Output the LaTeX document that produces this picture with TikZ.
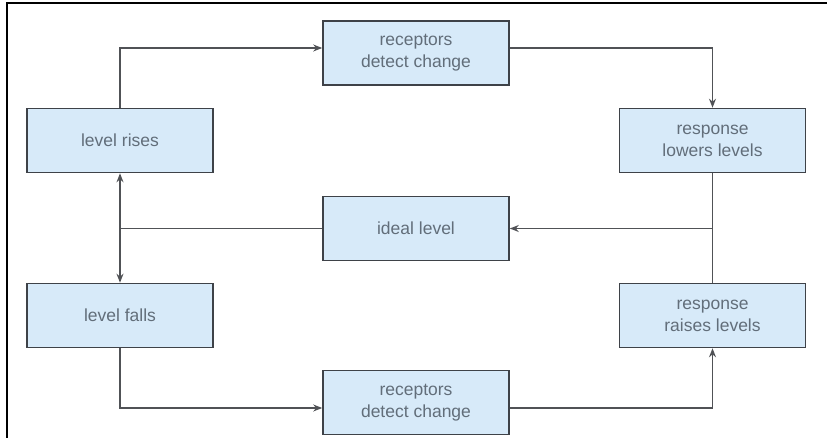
\documentclass[tikz,border=0pt]{standalone}
\usepackage{fontspec}
\setmainfont{Liberation Sans}
\usetikzlibrary{arrows.meta,calc}
\definecolor{boxfill}{RGB}{215,234,249}
\definecolor{boxline}{RGB}{62,66,72}
\definecolor{boxtext}{RGB}{98,110,122}
\definecolor{conn}{RGB}{80,82,86}
\tikzset{
  stepbox/.style={draw=boxline, line width=1.6pt, fill=boxfill, minimum width=186pt, minimum height=64pt,
    inner sep=0pt, align=center, text=boxtext, font=\fontsize{17.5}{22}\selectfont},
  conline/.style={draw=conn, line width=1.3pt},
  arr/.style={conline, -{Stealth[length=9pt,width=7pt]}}
}
\begin{document}
\begin{tikzpicture}[x=1pt,y=-1pt]
\useasboundingbox (0,0) rectangle (827,438);
\draw[line width=2pt, black] (7,438) -- (7,3) -- (827,3);

\node[stepbox] (rtop) at (416,53) {receptors\\detect change};
\node[stepbox] (rise) at (120,140.5) {level rises};
\node[stepbox] (lower) at (712.5,140.5) {response\\lowers levels};
\node[stepbox] (ideal) at (416,228.5) {ideal level};
\node[stepbox] (fall) at (120,315.5) {level falls};
\node[stepbox] (raise) at (712.5,315.5) {response\\raises levels};
\node[stepbox] (rbot) at (416,402.5) {receptors\\detect change};

\coordinate (jr) at (lower.south |- ideal.east);
\coordinate (jl) at (rise.south |- ideal.west);

\draw[arr] (rise.north) |- ([yshift=5pt]rtop.west);
\draw[arr] ([yshift=5pt]rtop.east) -| (lower.north);
\draw[conline] (lower.south) -- (raise.north);
\draw[arr] (jr) -- (ideal.east);
\draw[conline] (ideal.west) -- (jl);
\draw[arr] (jl) -- (rise.south);
\draw[arr] (jl) -- (fall.north);
\draw[arr] (fall.south) |- ([yshift=-5.5pt]rbot.west);
\draw[arr] ([yshift=-5.5pt]rbot.east) -| (raise.south);
\end{tikzpicture}
\end{document}
